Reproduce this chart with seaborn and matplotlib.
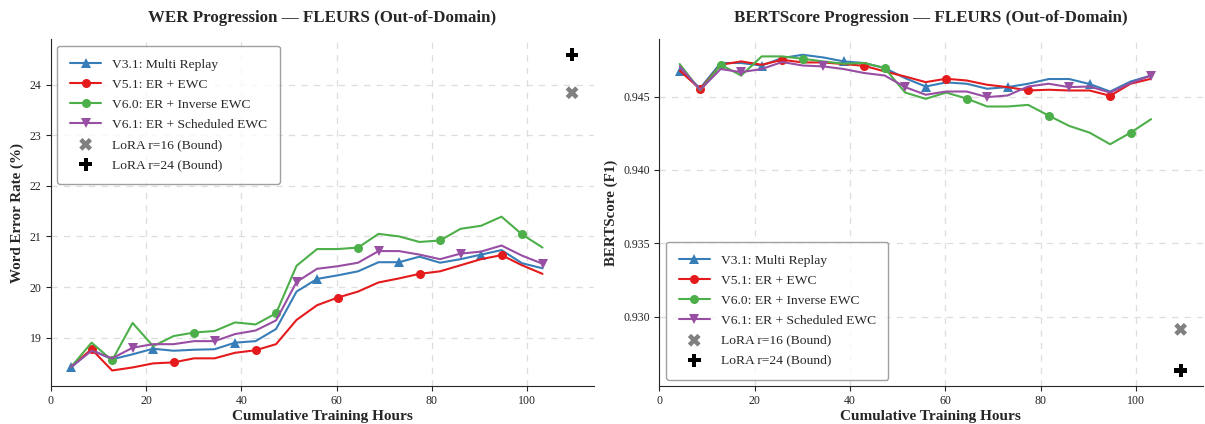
import matplotlib
matplotlib.use('Agg')
import matplotlib.pyplot as plt
import pandas as pd
import seaborn as sns

hours = [4.3, 8.6, 12.9, 17.2, 21.5, 25.8, 30.1, 34.4, 38.7, 43.0, 47.3, 51.6,
         55.9, 60.2, 64.5, 68.8, 73.1, 77.4, 81.7, 86.0, 90.3, 94.6, 98.9, 103.2]

models = ['V3.1: Multi Replay', 'V5.1: ER + EWC', 'V6.0: ER + Inverse EWC', 'V6.1: ER + Scheduled EWC']

wer_v31 = [18.41, 18.76, 18.57, 18.67, 18.78, 18.74, 18.76, 18.77, 18.90, 18.93, 19.17, 19.91,
           20.16, 20.23, 20.31, 20.49, 20.49, 20.60, 20.48, 20.55, 20.64, 20.73, 20.47, 20.37]
wer_v51 = [18.43, 18.77, 18.35, 18.41, 18.49, 18.51, 18.59, 18.59, 18.70, 18.75, 18.87, 19.35,
           19.64, 19.79, 19.91, 20.09, 20.17, 20.26, 20.31, 20.43, 20.55, 20.63, 20.43, 20.26]
wer_v60 = [18.42, 18.90, 18.55, 19.29, 18.83, 19.03, 19.10, 19.13, 19.30, 19.26, 19.48, 20.42,
           20.75, 20.75, 20.78, 21.05, 21.00, 20.89, 20.92, 21.15, 21.21, 21.39, 21.04, 20.78]
wer_v61 = [18.42, 18.74, 18.59, 18.80, 18.87, 18.87, 18.93, 18.93, 19.07, 19.14, 19.34, 20.10,
           20.36, 20.41, 20.48, 20.71, 20.71, 20.64, 20.55, 20.66, 20.70, 20.82, 20.62, 20.46]

bert_v31 = [0.94677, 0.94557, 0.94728, 0.94728, 0.94711, 0.94762, 0.94784, 0.94766, 0.94739, 0.94728, 0.94694, 0.94625,
            0.94568, 0.94596, 0.94587, 0.94553, 0.94564, 0.94587, 0.94619, 0.94619, 0.94585, 0.94534, 0.94602, 0.94643]
bert_v51 = [0.94677, 0.94550, 0.94716, 0.94739, 0.94716, 0.94750, 0.94732, 0.94732, 0.94721, 0.94709, 0.94671, 0.94636,
            0.94598, 0.94621, 0.94609, 0.94580, 0.94564, 0.94541, 0.94546, 0.94541, 0.94541, 0.94505, 0.94587, 0.94621]
bert_v60 = [0.94721, 0.94541, 0.94716, 0.94643, 0.94773, 0.94773, 0.94757, 0.94739, 0.94723, 0.94728, 0.94694, 0.94527,
            0.94484, 0.94527, 0.94486, 0.94432, 0.94432, 0.94443, 0.94370, 0.94300, 0.94254, 0.94175, 0.94254, 0.94346]
bert_v61 = [0.94705, 0.94546, 0.94687, 0.94666, 0.94687, 0.94735, 0.94711, 0.94705, 0.94687, 0.94660, 0.94643, 0.94564,
            0.94512, 0.94534, 0.94534, 0.94496, 0.94507, 0.94568, 0.94587, 0.94564, 0.94568, 0.94527, 0.94591, 0.94643]

lora_labels = ['LoRA r=16 (Bound)', 'LoRA r=24 (Bound)']
lora_hours = [109.4, 109.4]
lora_wer = [23.84, 24.59]
lora_bert = [0.92915, 0.92635]

colors = ['#377eb8', '#e41a1c', '#4daf4a', '#984ea3']
markers = ['^', 'o', 'o', 'v']

sns.set_style('ticks')
plt.rcParams['font.family'] = ['Liberation Serif', 'DejaVu Serif']
plt.rcParams['mathtext.fontset'] = 'stix'

fig, axes = plt.subplots(1, 2, figsize=(12.05, 4.24), dpi=100)
fig.subplots_adjust(left=0.042, right=0.998, bottom=0.089, top=0.908, wspace=0.12)


def draw(ax, series, lora_vals, title, ylabel, legend_loc):
    for k, (name, vals) in enumerate(zip(models, series)):
        df = pd.DataFrame({'hours': hours, 'value': vals})
        sns.lineplot(data=df, x='hours', y='value', ax=ax, color=colors[k], marker=markers[k],
                     markersize=6.5, markeredgewidth=0, linewidth=1.5, markevery=(k, 4), label=name)
    sns.scatterplot(x=[lora_hours[0]], y=[lora_vals[0]], ax=ax, color='gray', marker='X', s=85,
                    edgecolor='none', label=lora_labels[0], zorder=5)
    sns.scatterplot(x=[lora_hours[1]], y=[lora_vals[1]], ax=ax, color='black', marker='P', s=85,
                    edgecolor='none', label=lora_labels[1], zorder=5)
    ax.set_xlim(0, 114)
    ax.set_title(title, fontsize=12.2, fontweight='bold', pad=12)
    ax.set_xlabel('Cumulative Training Hours', fontsize=11, fontweight='bold', labelpad=2)
    ax.set_ylabel(ylabel, fontsize=10.8, fontweight='bold', labelpad=4)
    ax.grid(True, linestyle=(0, (5, 5)), color='#dddddd', linewidth=0.9)
    ax.tick_params(labelsize=8.6, length=3.5, pad=3)
    sns.despine(ax=ax)
    leg = ax.legend(loc=legend_loc, fontsize=9.7, frameon=True, borderpad=0.95, labelspacing=0.56,
                    handlelength=2.3)
    leg.get_frame().set_edgecolor('#888888')
    leg.get_frame().set_linewidth(1.0)


draw(axes[0], [wer_v31, wer_v51, wer_v60, wer_v61], lora_wer,
     'WER Progression — FLEURS (Out-of-Domain)', 'Word Error Rate (%)', 'upper left')
draw(axes[1], [bert_v31, bert_v51, bert_v60, bert_v61], lora_bert,
     'BERTScore Progression — FLEURS (Out-of-Domain)', 'BERTScore (F1)', 'lower left')

fig.savefig('out.png', dpi=100)
